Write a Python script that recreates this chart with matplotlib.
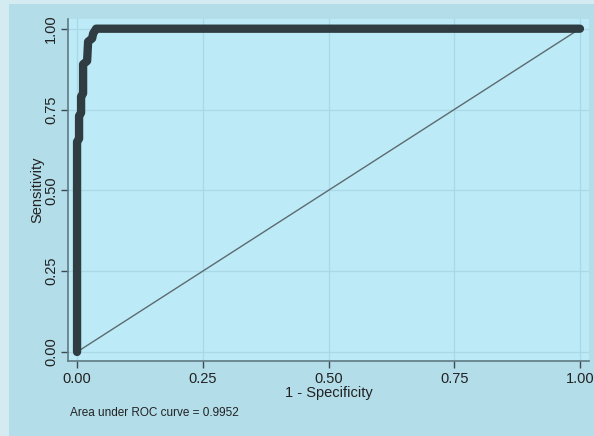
import matplotlib
matplotlib.use("Agg")
import matplotlib.pyplot as plt
from matplotlib.patches import Rectangle

# ROC points (1 - specificity, sensitivity)
fpr = [0.0, 0.0, 0.004, 0.004, 0.008, 0.008, 0.012, 0.012, 0.020, 0.022,
       0.030, 0.032, 0.038, 1.0]
tpr = [0.0, 0.65, 0.66, 0.73, 0.74, 0.79, 0.80, 0.89, 0.90, 0.96,
       0.97, 0.985, 1.0, 1.0]
ref_line = [0.0, 1.0]
ticks = [0.0, 0.25, 0.5, 0.75, 1.0]
tick_labels = ["0.00", "0.25", "0.50", "0.75", "1.00"]
auc_text = "Area under ROC curve = 0.9952"

plt.rcParams["font.family"] = ["Liberation Sans", "DejaVu Sans"]

W, H = 594, 436
fig = plt.figure(figsize=(W / 100, H / 100), dpi=100)
fig.patch.set_facecolor("#b3dde9")
# lighter outer border on the left and top edges
for x0, y0, w, h in [(0, 0, 9 / W, 1), (0, 1 - 4 / H, 1, 4 / H)]:
    fig.patches.append(Rectangle((x0, y0), w, h, transform=fig.transFigure,
                                 facecolor="#d5ebf2", edgecolor="none",
                                 zorder=-5))

ax = fig.add_axes([68 / W, (H - 361) / H, (589 - 68) / W, (361 - 19) / H])
ax.set_facecolor("#bdeaf7")

ax.plot(ref_line, ref_line, color="#5b6b70", lw=1.0, zorder=2)
ax.plot(fpr, tpr, color="#2f3c42", lw=6.0, solid_capstyle="round",
        solid_joinstyle="round", zorder=3)

ax.set_xlim(-0.018, 1.018)
ax.set_ylim(-0.028, 1.03)
ax.set_xticks(ticks)
ax.set_xticklabels(tick_labels)
ax.set_yticks(ticks)
ax.set_yticklabels(tick_labels, rotation=90, va="center")
ax.grid(True, color="#aad8e6", lw=0.9, zorder=1)
ax.set_axisbelow(True)

for side in ("top", "right"):
    ax.spines[side].set_visible(False)
for side in ("left", "bottom"):
    ax.spines[side].set_color("#5f7a82")
    ax.spines[side].set_linewidth(1.2)

txt = "#222222"
ax.tick_params(axis="both", direction="out", length=5, width=1,
               color="#3c4a50", labelsize=10.5, labelcolor=txt, pad=3)
ax.tick_params(axis="y", pad=2)

ax.set_xlabel("1 - Specificity", fontsize=10.5, labelpad=0, color=txt)
ax.set_ylabel("Sensitivity", fontsize=10.5, labelpad=0, color=txt)

fig.text(70 / W, 1 - 413 / H, auc_text, fontsize=8.5, va="center",
         color=txt)

fig.savefig("out.png", dpi=100, facecolor=fig.get_facecolor())
